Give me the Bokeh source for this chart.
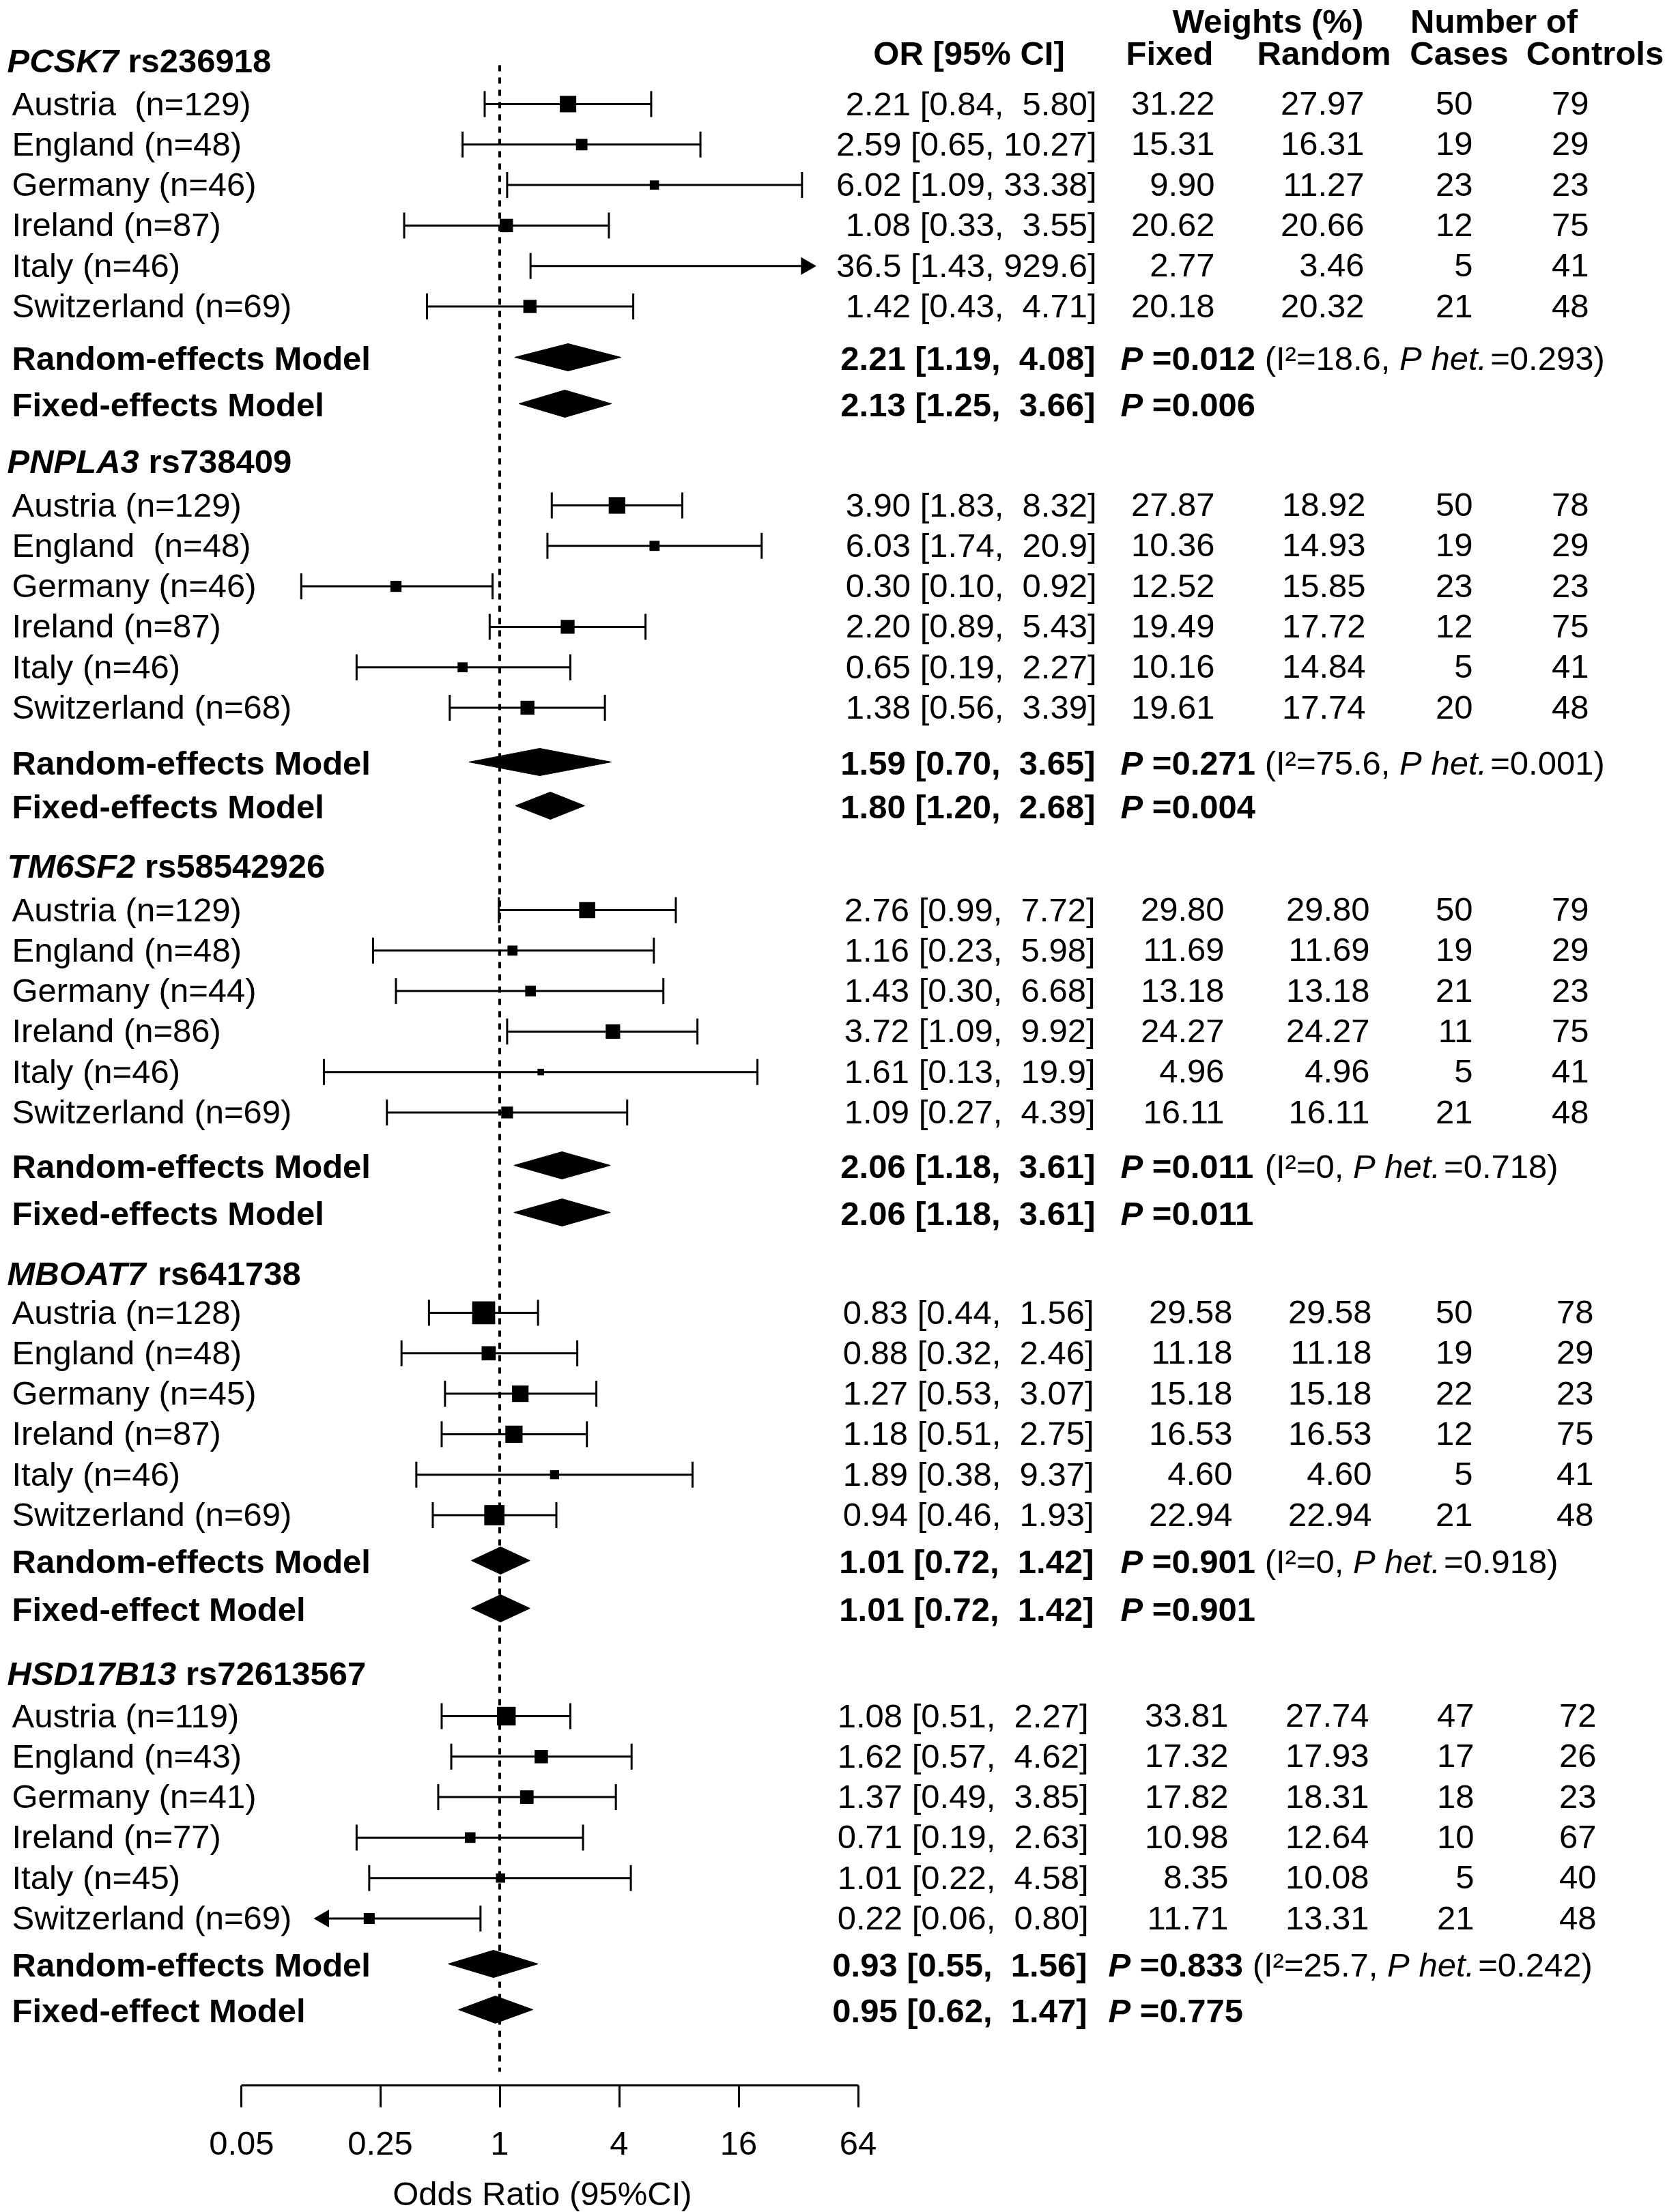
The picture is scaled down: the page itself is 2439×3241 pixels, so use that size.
import math
from bokeh.plotting import figure
from bokeh.layouts import column
from bokeh.models import (Range1d, LogScale, LogAxis, FixedTicker,
                          ColumnDataSource, CustomJSTickFormatter)
from bokeh.core.properties import value
from bokeh.embed import file_html
from bokeh.resources import INLINE

# ------------------------------------------------------------------ data
genes = ["PCSK7", "PNPLA3", "TM6SF2", "MBOAT7", "HSD17B13"]
snps = ["rs236918", "rs738409", "rs58542926", "rs641738", "rs72613567"]

pcsk7_labels = ["Austria  (n=129)", "England (n=48)", "Germany (n=46)", "Ireland (n=87)", "Italy (n=46)", "Switzerland (n=69)"]
pcsk7_or = ["2.21", "2.59", "6.02", "1.08", "36.5", "1.42"]
pcsk7_lo = ["0.84", "0.65", "1.09", "0.33", "1.43", "0.43"]
pcsk7_hi = ["5.80", "10.27", "33.38", "3.55", "929.6", "4.71"]
pcsk7_wfix = ["31.22", "15.31", "9.90", "20.62", "2.77", "20.18"]
pcsk7_wran = ["27.97", "16.31", "11.27", "20.66", "3.46", "20.32"]
pcsk7_cases = [50, 19, 23, 12, 5, 21]
pcsk7_controls = [79, 29, 23, 75, 41, 48]

pnpla3_labels = ["Austria (n=129)", "England  (n=48)", "Germany (n=46)", "Ireland (n=87)", "Italy (n=46)", "Switzerland (n=68)"]
pnpla3_or = ["3.90", "6.03", "0.30", "2.20", "0.65", "1.38"]
pnpla3_lo = ["1.83", "1.74", "0.10", "0.89", "0.19", "0.56"]
pnpla3_hi = ["8.32", "20.9", "0.92", "5.43", "2.27", "3.39"]
pnpla3_wfix = ["27.87", "10.36", "12.52", "19.49", "10.16", "19.61"]
pnpla3_wran = ["18.92", "14.93", "15.85", "17.72", "14.84", "17.74"]
pnpla3_cases = [50, 19, 23, 12, 5, 20]
pnpla3_controls = [78, 29, 23, 75, 41, 48]

tm6sf2_labels = ["Austria (n=129)", "England (n=48)", "Germany (n=44)", "Ireland (n=86)", "Italy (n=46)", "Switzerland (n=69)"]
tm6sf2_or = ["2.76", "1.16", "1.43", "3.72", "1.61", "1.09"]
tm6sf2_lo = ["0.99", "0.23", "0.30", "1.09", "0.13", "0.27"]
tm6sf2_hi = ["7.72", "5.98", "6.68", "9.92", "19.9", "4.39"]
tm6sf2_wfix = ["29.80", "11.69", "13.18", "24.27", "4.96", "16.11"]
tm6sf2_wran = ["29.80", "11.69", "13.18", "24.27", "4.96", "16.11"]
tm6sf2_cases = [50, 19, 21, 11, 5, 21]
tm6sf2_controls = [79, 29, 23, 75, 41, 48]

mboat7_labels = ["Austria (n=128)", "England (n=48)", "Germany (n=45)", "Ireland (n=87)", "Italy (n=46)", "Switzerland (n=69)"]
mboat7_or = ["0.83", "0.88", "1.27", "1.18", "1.89", "0.94"]
mboat7_lo = ["0.44", "0.32", "0.53", "0.51", "0.38", "0.46"]
mboat7_hi = ["1.56", "2.46", "3.07", "2.75", "9.37", "1.93"]
mboat7_wfix = ["29.58", "11.18", "15.18", "16.53", "4.60", "22.94"]
mboat7_wran = ["29.58", "11.18", "15.18", "16.53", "4.60", "22.94"]
mboat7_cases = [50, 19, 22, 12, 5, 21]
mboat7_controls = [78, 29, 23, 75, 41, 48]

hsd17b13_labels = ["Austria (n=119)", "England (n=43)", "Germany (n=41)", "Ireland (n=77)", "Italy (n=45)", "Switzerland (n=69)"]
hsd17b13_or = ["1.08", "1.62", "1.37", "0.71", "1.01", "0.22"]
hsd17b13_lo = ["0.51", "0.57", "0.49", "0.19", "0.22", "0.06"]
hsd17b13_hi = ["2.27", "4.62", "3.85", "2.63", "4.58", "0.80"]
hsd17b13_wfix = ["33.81", "17.32", "17.82", "10.98", "8.35", "11.71"]
hsd17b13_wran = ["27.74", "17.93", "18.31", "12.64", "10.08", "13.31"]
hsd17b13_cases = [47, 17, 18, 10, 5, 21]
hsd17b13_controls = [72, 26, 23, 67, 40, 48]

rand_or = ["2.21", "1.59", "2.06", "1.01", "0.93"]
rand_lo = ["1.19", "0.70", "1.18", "0.72", "0.55"]
rand_hi = ["4.08", "3.65", "3.61", "1.42", "1.56"]
rand_p = ["0.012", "0.271", "0.011", "0.901", "0.833"]
rand_i2 = ["18.6", "75.6", "0", "0", "25.7"]
rand_phet = ["0.293", "0.001", "0.718", "0.918", "0.242"]
fix_or = ["2.13", "1.80", "2.06", "1.01", "0.95"]
fix_lo = ["1.25", "1.20", "1.18", "0.72", "0.62"]
fix_hi = ["3.66", "2.68", "3.61", "1.42", "1.47"]
fix_p = ["0.006", "0.004", "0.011", "0.901", "0.775"]
rand_label = ["Random-effects Model"] * 5
fix_label = ["Fixed-effects Model"] * 3 + ["Fixed-effect Model"] * 2

axis_ticks = [0.05, 0.25, 1, 4, 16, 64]
axis_title = "Odds Ratio (95%CI)"

blocks = [
    (pcsk7_labels, pcsk7_or, pcsk7_lo, pcsk7_hi, pcsk7_wfix, pcsk7_wran, pcsk7_cases, pcsk7_controls),
    (pnpla3_labels, pnpla3_or, pnpla3_lo, pnpla3_hi, pnpla3_wfix, pnpla3_wran, pnpla3_cases, pnpla3_controls),
    (tm6sf2_labels, tm6sf2_or, tm6sf2_lo, tm6sf2_hi, tm6sf2_wfix, tm6sf2_wran, tm6sf2_cases, tm6sf2_controls),
    (mboat7_labels, mboat7_or, mboat7_lo, mboat7_hi, mboat7_wfix, mboat7_wran, mboat7_cases, mboat7_controls),
    (hsd17b13_labels, hsd17b13_or, hsd17b13_lo, hsd17b13_hi, hsd17b13_wfix, hsd17b13_wran, hsd17b13_cases, hsd17b13_controls),
]

# ------------------------------------------------------------------ layout
W = 2439
H_MAIN, H_TITLE = 3183, 57  # main figure (table + forest + axis) / axis title strip
X0, X1 = 0, W
Y_TOP, Y_AX = 0, 3055       # frame top / axis line (page px)
ONE_X, PX_DBL = 731.5, 87.5 # screen position of OR=1 and px per doubling
OR_MIN = 2 ** ((X0 - ONE_X) / PX_DBL)
OR_MAX = 2 ** ((X1 - ONE_X) / PX_DBL)

FS = 49
FONT = "Liberation Sans"
TXT_DY = -16                # renderer's baseline correction
title_y = [87, 674, 1267, 1864, 2450]
row0_y = [152, 740, 1333, 1923, 2514]
ROW_DY = 59.3
rand_y = [523, 1116, 1707, 2286, 2877]
fix_y = [591, 1180, 1776, 2356, 2944]
or_right = [1606, 1606, 1604, 1602, 1594]
sum_right = [1604, 1604, 1604, 1602, 1592]
fix_right = [1779, 1779, 1793, 1805, 1799]
ran_right = [1998, 2000, 2006, 2009, 2005]
cas_right = [2157, 2157, 2157, 2157, 2159]
con_right = [2327, 2327, 2327, 2334, 2338]
p_start = [1641, 1641, 1641, 1641, 1623]
sq_k = [4.3, 4.6, 4.3, 6.2, 4.7]
clip_lo = [0.05, 0.05, 0.05, 0.05, 0.13]
clip_hi = [35, 64, 64, 64, 64]
CAP = 19
DIA = 20

REG = {' ': 278, '(': 333, ')': 333, ',': 278, '.': 278, '=': 584, 'I': 278,
       '\u00b2': 333, 'P': 667, 'h': 556, 'e': 556, 't': 278}
BLD = {' ': 278, '.': 278, ',': 278, '=': 584, 'P': 667, '[': 333, ']': 333,
       'r': 389, 's': 556, 'C': 722, 'S': 667, 'K': 722, 'N': 722, 'L': 611,
       'A': 722, 'T': 611, 'F': 611, 'M': 833, 'B': 722, 'O': 778, 'H': 722, 'D': 722}


def tw(s, bold=False):
    t = BLD if bold else REG
    return sum(t.get(c, 556) for c in s) * FS / 1000.0


def ci_text(o, lo, hi):
    return "%s [%s, %5s]" % (o, lo, hi)


p = figure(width=W, height=H_MAIN, title=None,
           x_range=Range1d(X0, X1), y_range=Range1d(Y_AX, Y_TOP),
           extra_x_ranges={"or": Range1d(OR_MIN, OR_MAX)},
           extra_x_scales={"or": LogScale()},
           x_axis_location=None, y_axis_location=None,
           output_backend="svg", toolbar_location=None,
           min_border_left=0, min_border_right=0, min_border_top=0,
           min_border_bottom=H_MAIN - (Y_AX - Y_TOP))
p.outline_line_color = None
p.grid.visible = False

# strip below the axis that carries the axis title
pt = figure(width=W, height=H_TITLE, title=None,
            x_range=Range1d(X0, X1), y_range=Range1d(H_MAIN + H_TITLE, H_MAIN),
            x_axis_location=None, y_axis_location=None,
            output_backend="svg", toolbar_location=None,
            min_border_left=0, min_border_right=0, min_border_top=0, min_border_bottom=0)
pt.outline_line_color = None
pt.grid.visible = False


def text(xs, ys, ts, align="left", style="normal", size=FS, fig=None):
    fig = fig or p
    ts = [s.replace(" ", "\u00a0") for s in ts]
    ys = [y + TXT_DY for y in ys]
    src = ColumnDataSource(dict(x=xs, y=ys, t=ts))
    fig.text("x", "y", "t", source=src, text_align=align, text_baseline="alphabetic",
             text_font=value(FONT), text_font_size=value("%dpx" % size),
             text_font_style=style, text_color="black")


# reference line at OR = 1
p.segment(x0=[1], x1=[1], y0=[95], y1=[3035], x_range_name="or",
          line_color="black", line_width=4, line_dash="9 9")

# headers
text([1857, 2188], [46, 46], ["Weights (%)", "Number of"], "center", "bold")
text([1419, 1713, 1939, 2137, 2336], [93] * 5,
     ["OR [95% CI]", "Fixed", "Random", "Cases", "Controls"], "center", "bold")

seg = dict(x0=[], x1=[], y=[])
cap = dict(x=[], y0=[], y1=[])
sq = dict(x=[], y=[], s=[])
arr = dict(x=[], y=[], a=[])
dia = dict(xs=[], ys=[])

for b, (lab, orv, lo, hi, wf, wr, ca, co) in enumerate(blocks):
    # block title
    text([10], [title_y[b] + 17], [genes[b]], "left", "bold italic")
    text([10 + tw(genes[b], True)], [title_y[b] + 17], [" " + snps[b]], "left", "bold")
    ys = [row0_y[b] + ROW_DY * i for i in range(len(lab))]
    bl = [y + 15 for y in ys]
    text([17] * len(lab), bl, lab, "left")
    text([or_right[b]] * len(lab), bl, [ci_text(o, l, h) for o, l, h in zip(orv, lo, hi)], "right")
    text([fix_right[b]] * len(lab), bl, wf, "right")
    text([ran_right[b]] * len(lab), bl, wr, "right")
    text([cas_right[b]] * len(lab), bl, [str(c) for c in ca], "right")
    text([con_right[b]] * len(lab), bl, [str(c) for c in co], "right")
    for i, y in enumerate(ys):
        e, l, h = float(orv[i]), float(lo[i]), float(hi[i])
        a0, a1 = max(l, clip_lo[b]), min(h, clip_hi[b])
        seg["x0"].append(a0); seg["x1"].append(a1); seg["y"].append(y)
        if l < clip_lo[b]:
            arr["x"].append(a0); arr["y"].append(y); arr["a"].append(math.pi / 2)
        else:
            cap["x"].append(l); cap["y0"].append(y - CAP); cap["y1"].append(y + CAP)
        if h > clip_hi[b]:
            arr["x"].append(a1); arr["y"].append(y); arr["a"].append(-math.pi / 2)
        else:
            cap["x"].append(h); cap["y0"].append(y - CAP); cap["y1"].append(y + CAP)
        sq["x"].append(e); sq["y"].append(y); sq["s"].append(sq_k[b] * math.sqrt(float(wf[i])))
    # summary rows
    for yy, lab_s, o, l, h in ((rand_y[b], rand_label[b], rand_or[b], rand_lo[b], rand_hi[b]),
                               (fix_y[b], fix_label[b], fix_or[b], fix_lo[b], fix_hi[b])):
        text([17], [yy + 17], [lab_s], "left", "bold")
        text([sum_right[b]], [yy + 17], [ci_text(o, l, h)], "right", "bold")
        dia["xs"].append([float(l), float(o), float(h), float(o)])
        dia["ys"].append([yy, yy - DIA, yy, yy + DIA])
    # P values
    for yy, pv, extra in ((rand_y[b], rand_p[b], True), (fix_y[b], fix_p[b], False)):
        x = p_start[b]
        text([x], [yy + 17], ["P"], "left", "bold italic"); x += tw("P", True)
        s = " =" + pv
        text([x], [yy + 17], [s], "left", "bold"); x += tw(s, True)
        if extra:
            s = " (I\u00b2=" + rand_i2[b] + ", "
            text([x], [yy + 17], [s], "left"); x += tw(s)
            s = "P het."
            text([x], [yy + 17], [s], "left", "italic"); x += tw(s) + 5
            s = "=" + rand_phet[b] + ")"
            text([x], [yy + 17], [s], "left")

p.segment(x0="x0", x1="x1", y0="y", y1="y", source=ColumnDataSource(seg),
          x_range_name="or", line_color="black", line_width=3)
p.segment(x0="x", x1="x", y0="y0", y1="y1", source=ColumnDataSource(cap),
          x_range_name="or", line_color="black", line_width=3)
p.scatter("x", "y", size="s", source=ColumnDataSource(sq), marker="square",
          x_range_name="or", fill_color="black", line_color=None)
p.scatter("x", "y", angle="a", source=ColumnDataSource(arr), marker="triangle", size=26,
          x_range_name="or", fill_color="black", line_color=None)
p.patches("xs", "ys", source=ColumnDataSource(dia), x_range_name="or",
          fill_color="black", line_color="black", line_width=1)

ax = LogAxis(x_range_name="or", ticker=FixedTicker(ticks=axis_ticks, minor_ticks=[]),
             bounds=(axis_ticks[0], axis_ticks[-1]),
             formatter=CustomJSTickFormatter(code="return tick.toString()"))
ax.axis_line_width = 3
ax.axis_line_color = "black"
ax.major_tick_line_width = 3
ax.major_tick_line_color = "black"
ax.major_tick_out = 32
ax.major_tick_in = 0
ax.minor_tick_line_color = None
ax.major_label_standoff = 36
ax.major_label_text_font = FONT
ax.major_label_text_font_size = "%dpx" % FS
ax.major_label_text_color = "black"
p.add_layout(ax, "below")

# axis title, centred under the axis (midpoint of its bounds on screen)
ax_mid = (ONE_X + PX_DBL * math.log2(axis_ticks[0]) + ONE_X + PX_DBL * math.log2(axis_ticks[-1])) / 2 - 11
text([ax_mid], [3229], [axis_title], "center", fig=pt)

open("out.html", "w").write(file_html(column(p, pt), INLINE))
